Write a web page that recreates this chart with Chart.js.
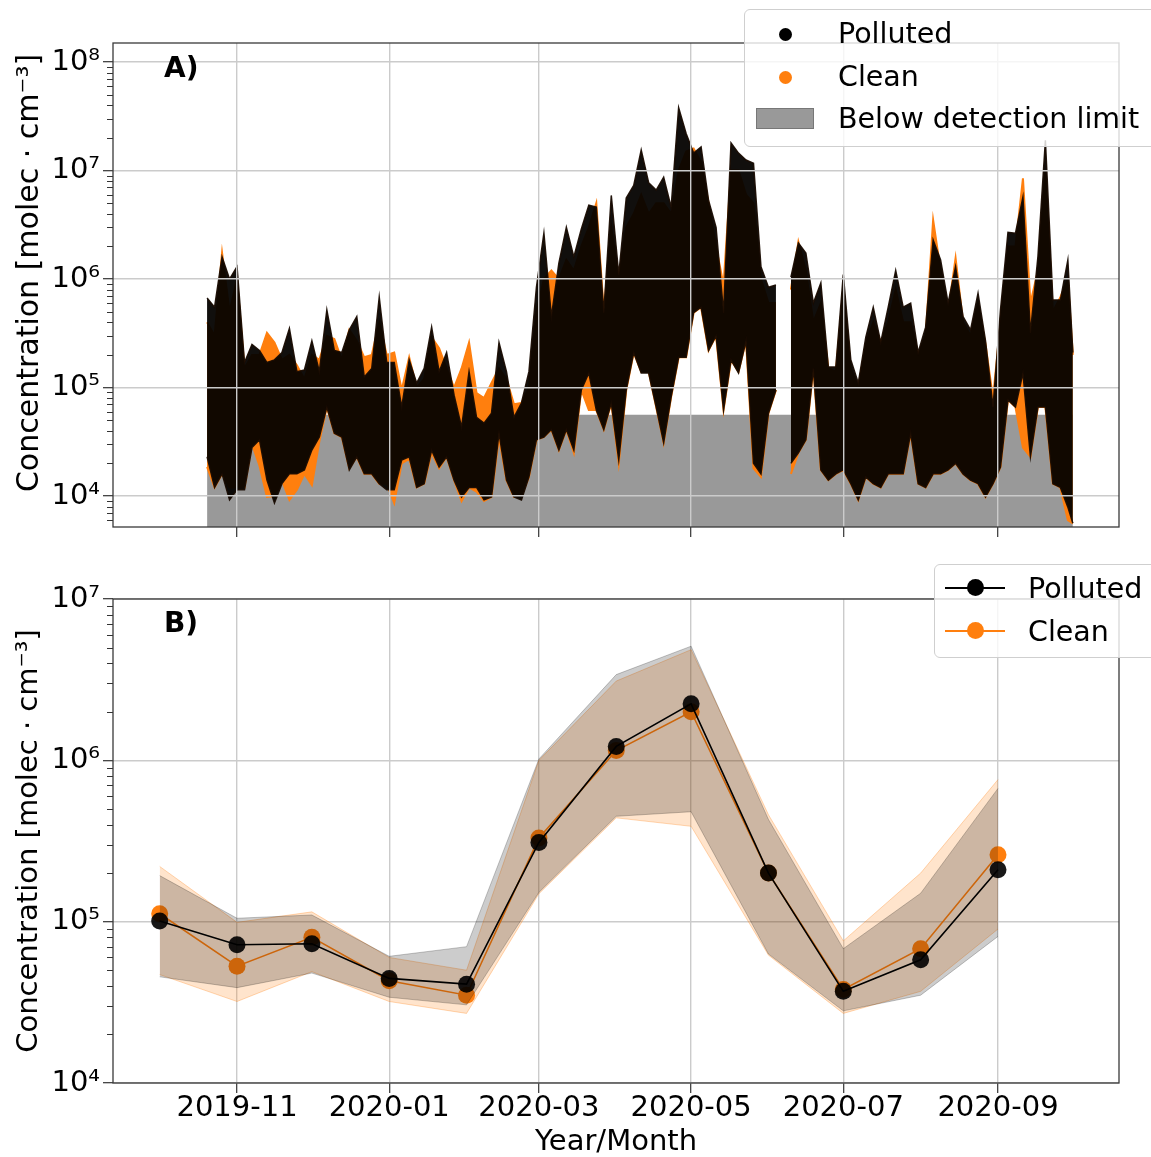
<!DOCTYPE html>
<html>
<head>
<meta charset="utf-8">
<title>Concentration, polluted vs clean</title>
<script src="https://cdn.jsdelivr.net/npm/chart.js@4.4.1/dist/chart.umd.min.js"></script>
<style>
  body { margin: 0; background: #fff; }
  #page { position: relative; width: 1151px; height: 1157px; overflow: hidden;
          font-family: "DejaVu Sans", sans-serif; color: #000; }
  canvas { position: absolute; left: 0; }
  #chartA { top: 0; }
  #chartB { top: 560px; }
  .tag { position: absolute; left: 164px; font-weight: bold; font-size: 28px; line-height: 34px; }
  .legend { position: absolute; background: rgba(255,255,255,0.8); border: 1.3px solid #cfcfcf;
            border-radius: 6px; box-sizing: border-box; }
  .legend .txt { position: absolute; left: 93px; height: 34px; line-height: 34px;
                 font-size: 28.5px; white-space: nowrap; }
  .dot { position: absolute; width: 13px; height: 13px; border-radius: 50%; }
  .patch { position: absolute; background: #999; border: 1px solid #777; box-sizing: border-box; }
  .ln { position: absolute; height: 2px; }
  .mk { position: absolute; width: 17px; height: 17px; border-radius: 50%; }
</style>
</head>
<body>
<div id="page">
  <canvas id="chartA" width="1151" height="560"></canvas>
  <canvas id="chartB" width="1151" height="597"></canvas>

  <div class="tag" style="top:51px">A)</div>
  <div class="tag" style="top:606px">B)</div>

  <div class="legend" style="left:744px; top:9px; width:440px; height:138px;">
    <div class="dot" style="left:34px; top:18px; background:#000"></div>
    <div class="txt" style="top:7px">Polluted</div>
    <div class="dot" style="left:34px; top:61px; background:#ff7f0e"></div>
    <div class="txt" style="top:50px">Clean</div>
    <div class="patch" style="left:11px; top:98px; width:58px; height:21px"></div>
    <div class="txt" style="top:92px">Below detection limit</div>
  </div>

  <div class="legend" style="left:934px; top:564px; width:240px; height:94px;">
    <div class="ln" style="left:10px; top:22px; width:60px; background:#000"></div>
    <div class="mk" style="left:32px; top:14px; background:#000"></div>
    <div class="txt" style="top:7px">Polluted</div>
    <div class="ln" style="left:10px; top:65px; width:60px; background:#ff7f0e"></div>
    <div class="mk" style="left:32px; top:57px; background:#ff7f0e"></div>
    <div class="txt" style="top:50px">Clean</div>
  </div>
</div>

<script>
// ---------- panel A: envelope of the raw measurements, read every ~3 days ----------
const aDates = [
  '2019-10-20','2019-10-23','2019-10-26','2019-10-29','2019-11-01','2019-11-04','2019-11-07','2019-11-10','2019-11-13','2019-11-16',
  '2019-11-19','2019-11-22','2019-11-25','2019-11-28','2019-12-01','2019-12-04','2019-12-07','2019-12-10','2019-12-13','2019-12-16',
  '2019-12-19','2019-12-22','2019-12-25','2019-12-28','2019-12-31','2020-01-03','2020-01-06','2020-01-09','2020-01-12','2020-01-15',
  '2020-01-18','2020-01-21','2020-01-24','2020-01-27','2020-01-30','2020-02-02','2020-02-05','2020-02-08','2020-02-11','2020-02-14',
  '2020-02-17','2020-02-20','2020-02-23','2020-02-26','2020-02-29','2020-03-03','2020-03-06','2020-03-09','2020-03-12','2020-03-15',
  '2020-03-18','2020-03-21','2020-03-24','2020-03-27','2020-03-30','2020-04-02','2020-04-05','2020-04-08','2020-04-11','2020-04-14',
  '2020-04-17','2020-04-20','2020-04-23','2020-04-26','2020-04-29','2020-05-02','2020-05-05','2020-05-08','2020-05-11','2020-05-14',
  '2020-05-17','2020-05-20','2020-05-23','2020-05-26','2020-05-29','2020-06-01','2020-06-04','2020-06-07','2020-06-10','2020-06-13',
  '2020-06-16','2020-06-19','2020-06-22','2020-06-25','2020-06-28','2020-07-01','2020-07-04','2020-07-07','2020-07-10','2020-07-13',
  '2020-07-16','2020-07-19','2020-07-22','2020-07-25','2020-07-28','2020-07-31','2020-08-03','2020-08-06','2020-08-09','2020-08-12',
  '2020-08-15','2020-08-18','2020-08-21','2020-08-24','2020-08-27','2020-08-30','2020-09-02','2020-09-05','2020-09-08','2020-09-11',
  '2020-09-14','2020-09-17','2020-09-20','2020-09-23','2020-09-26','2020-09-29','2020-10-01'
];
const aPollutedHigh = [
  6.7e5, 5.5e5, 1.6e6, 1.0e6, 1.3e6, 1.7e5, 2.5e5, 2.2e5, 1.7e5, 1.8e5,
  2.1e5, 3.5e5, 1.4e5, 1.45e5, 2.7e5, 1.4e5, 5.2e5, 2.2e5, 2.1e5, 3.4e5,
  4.5e5, 1.25e5, 1.5e5, 6.8e5, 1.7e5, 1.7e5, 6.6e4, 1.8e5, 1.1e5, 1.5e5,
  3.6e5, 1.4e5, 2.1e5, 8.5e4, 4.3e4, 1.4e5, 5.3e4, 4.7e4, 5.8e4, 2.6e5,
  1.4e5, 5.3e4, 7.2e4, 1.4e5, 8.4e5, 2.65e6, 4.5e5, 1.4e6, 3.0e6, 1.6e6,
  2.9e6, 4.8e6, 4.6e6, 4.9e5, 5.9e6, 1.1e6, 5.6e6, 7.3e6, 1.55e7, 7.7e6,
  6.6e6, 8.7e6, 4.6e6, 3.8e7, 2.2e7, 1.45e7, 1.65e7, 5.3e6, 3.0e6, 4.9e5,
  1.8e7, 1.45e7, 1.25e7, 1.17e7, 1.3e6, 8.4e5, 8.8e5, null, 1.04e6, 2.15e6,
  1.74e6, 6.0e5, 9.2e5, 1.55e5, 1.55e5, 1.1e6, 1.8e5, 1.1e5, 2.9e5, 5.5e5,
  2.6e5, 5.5e5, 1.2e6, 5.5e5, 6.0e5, 2.1e5, 3.6e5, 2.3e6, 1.5e6, 6.0e5,
  1.3e6, 4.5e5, 3.4e5, 7.4e5, 2.7e5, 6.6e4, 5.2e5, 2.7e6, 2.65e6, 5.7e6,
  3.2e5, 1.6e6, 1.9e7, 6.4e5, 6.4e5, 1.5e6, 2.1e5
];
const aPollutedLow = [
  2.3e4, 1.2e4, 1.6e4, 9.2e3, 1.14e4, 1.14e4, 2.8e4, 3.3e4, 1.4e4, 8.6e3,
  1.3e4, 1.6e4, 1.6e4, 1.74e4, 2.65e4, 3.5e4, 6.6e4, 3.8e4, 3.5e4, 1.74e4,
  2.3e4, 1.6e4, 1.6e4, 1.3e4, 1.14e4, 1.14e4, 2.15e4, 2.3e4, 1.2e4, 1.3e4,
  2.65e4, 1.85e4, 2.3e4, 1.4e4, 9.8e3, 1.2e4, 1.2e4, 9.2e3, 9.8e3, 3.8e4,
  1.4e4, 9.8e3, 9.2e3, 1.5e4, 3.3e4, 3.5e4, 4.1e4, 2.65e4, 4.1e4, 2.65e4,
  9.5e4, 1.36e5, 6.2e4, 4.1e4, 7.2e4, 2.15e4, 9.5e4, 2.1e5, 1.36e5, 1.36e5,
  6.6e4, 3.1e4, 8.2e4, 1.9e5, 1.9e5, 4.9e5, 5.5e5, 2.2e5, 3.0e5, 6.2e4,
  1.8e5, 1.36e5, 2.7e5, 2.0e4, 1.6e4, 5.8e4, 9.5e4, null, 2.0e4, 2.5e4,
  3.3e4, 1.5e5, 1.74e4, 1.4e4, 1.6e4, 1.74e4, 1.3e4, 9.2e3, 1.5e4, 1.3e4,
  1.2e4, 1.6e4, 1.6e4, 1.6e4, 3.8e4, 1.3e4, 1.2e4, 1.6e4, 1.6e4, 1.74e4,
  2.0e4, 1.6e4, 1.4e4, 1.3e4, 9.8e3, 1.3e4, 1.85e4, 7.7e4, 6.6e4, 1.36e5,
  2.3e4, 6.6e4, 6.6e4, 1.3e4, 1.2e4, 7.9e3, 5.6e3
];
const aCleanHigh = [
  4.0e5, 3.0e5, 1.75e6, 5.0e5, 1.0e6, 1.5e5, 2.0e5, 2.0e5, 3.2e5, 2.6e5,
  1.8e5, 2.0e5, 1.6e5, 1.2e5, 2.0e5, 1.8e5, 3.0e5, 2.8e5, 1.8e5, 3.4e5,
  2.7e5, 1.9e5, 2.0e5, 4.0e5, 2.0e5, 2.1e5, 9.5e4, 1.9e5, 1.0e5, 1.2e5,
  2.9e5, 2.3e5, 1.5e5, 1.0e5, 1.5e5, 2.6e5, 8.9e4, 8.0e4, 1.1e5, 1.5e5,
  1.2e5, 7.0e4, 7.2e4, 1.0e5, 5.0e5, 1.0e6, 1.2e6, 1.0e6, 1.5e6, 1.2e6,
  2.0e6, 3.0e6, 5.0e6, 5.0e5, 3.0e6, 1.0e6, 3.0e6, 4.0e6, 6.0e6, 4.0e6,
  5.0e6, 5.0e6, 4.0e6, 1.0e7, 1.5e7, 1.6e7, 1.2e7, 5.0e6, 2.0e6, 8.8e5,
  1.0e7, 1.0e7, 6.0e6, 5.0e6, 1.0e6, 6.0e5, 6.0e5, null, 8.0e5, 2.2e6,
  1.2e6, 4.0e5, 6.0e5, 1.5e5, 1.4e5, 8.0e5, 1.5e5, 1.0e5, 2.5e5, 4.0e5,
  2.6e5, 4.0e5, 8.0e5, 4.0e5, 4.0e5, 2.0e5, 3.0e5, 3.5e6, 1.2e6, 5.0e5,
  1.56e6, 4.0e5, 3.0e5, 6.0e5, 2.5e5, 8.0e4, 4.0e5, 2.0e6, 2.0e6, 8.5e6,
  6.0e5, 1.2e6, 1.0e7, 5.0e5, 6.8e5, 1.0e6, 2.0e5
];
const aCleanLow = [
  1.85e4, 1.2e4, 1.6e4, 1.2e4, 1.2e4, 1.2e4, 3.0e4, 1.9e4, 9.8e3, 1.0e4,
  1.4e4, 9.2e3, 1.14e4, 1.6e4, 1.26e4, 3.2e4, 6.6e4, 3.8e4, 3.5e4, 1.8e4,
  2.3e4, 1.6e4, 1.6e4, 1.3e4, 1.3e4, 8.6e3, 2.0e4, 2.2e4, 1.2e4, 1.3e4,
  2.5e4, 1.8e4, 2.3e4, 1.4e4, 9.0e3, 1.2e4, 1.1e4, 9.0e3, 9.8e3, 3.5e4,
  1.4e4, 9.8e3, 1.0e4, 1.5e4, 3.3e4, 3.5e4, 4.1e4, 2.65e4, 4.1e4, 2.5e4,
  9.5e4, 6.2e4, 6.2e4, 4.1e4, 7.2e4, 2.0e4, 9.5e4, 2.1e5, 1.4e5, 1.4e5,
  6.6e4, 3.1e4, 8.2e4, 1.9e5, 1.9e5, 4.9e5, 5.5e5, 2.2e5, 3.0e5, 6.2e4,
  1.8e5, 1.4e5, 2.7e5, 1.8e4, 1.5e4, 5.8e4, 9.5e4, null, 1.6e4, 2.5e4,
  3.3e4, 1.5e5, 1.74e4, 1.4e4, 1.6e4, 1.74e4, 1.3e4, 9.2e3, 1.5e4, 1.3e4,
  1.2e4, 1.6e4, 1.6e4, 1.6e4, 3.8e4, 1.3e4, 1.2e4, 1.6e4, 1.6e4, 1.74e4,
  2.0e4, 1.6e4, 1.4e4, 1.3e4, 9.8e3, 1.3e4, 1.85e4, 7.7e4, 6.6e4, 2.8e4,
  2.3e4, 6.6e4, 6.6e4, 1.3e4, 1.2e4, 6.0e3, 5.6e3
];
const detectionLimit = 5.6e4;
const detectionSpan = ['2019-10-20', '2020-10-01'];

// ---------- panel B: monthly medians and spread ----------
const bMonths = ['2019-10','2019-11','2019-12','2020-01','2020-02','2020-03',
                 '2020-04','2020-05','2020-06','2020-07','2020-08','2020-09'];
const bPollutedMedian = [1.01e5, 7.2e4, 7.3e4, 4.45e4, 4.1e4, 3.1e5, 1.22e6, 2.24e6, 2.0e5, 3.7e4, 5.8e4, 2.1e5];
const bPollutedUpper  = [1.93e5, 1.05e5, 1.1e5, 6.1e4, 7.0e4, 1.02e6, 3.4e6, 5.1e6, 4.3e5, 6.8e4, 1.5e5, 6.7e5];
const bPollutedLower  = [4.55e4, 3.9e4, 4.8e4, 3.4e4, 3.05e4, 1.52e5, 4.5e5, 4.8e5, 6.3e4, 2.8e4, 3.5e4, 8.1e4];
const bCleanMedian    = [1.12e5, 5.3e4, 8.0e4, 4.3e4, 3.5e4, 3.3e5, 1.15e6, 2.0e6, 2.0e5, 3.8e4, 6.8e4, 2.6e5];
const bCleanUpper     = [2.2e5, 9.9e4, 1.15e5, 6.0e4, 5.0e4, 1.0e6, 3.1e6, 4.85e6, 4.6e5, 7.6e4, 2.0e5, 7.6e5];
const bCleanLower     = [4.7e4, 3.2e4, 4.9e4, 3.2e4, 2.7e4, 1.49e5, 4.4e5, 3.9e5, 6.2e4, 2.7e4, 3.7e4, 9.0e4];

// ---------- axes ----------
const xTickLabels = ['2019-11', '2020-01', '2020-03', '2020-05', '2020-07', '2020-09'];
const yTicksA = [1e4, 1e5, 1e6, 1e7, 1e8];
const yTicksB = [1e4, 1e5, 1e6, 1e7];
const yTitle = 'Concentration [molec · cm⁻³]';
const xMin = Date.parse('2019-09-12T07:00:00Z');
const xMax = Date.parse('2020-10-19T12:00:00Z');

const FONT = '"DejaVu Sans", sans-serif';
const GRID = '#cbcbcb';
const supMap = {'-': '⁻', '0': '⁰', '1': '¹', '2': '²', '3': '³', '4': '⁴', '5': '⁵', '6': '⁶', '7': '⁷', '8': '⁸', '9': '⁹'};

const day = s => Date.parse(s.length === 7 ? s + '-01' : s);
const pts = (dates, vals) => dates.map((d, i) => ({ x: day(d), y: vals[i] }));
const sup = n => String(n).split('').map(c => supMap[c]).join('');

// gridZ > 0 puts the grid over the data (matplotlib draws it above scatter/fill collections)
function logAxis(ticks, min, max, gridZ, withTitle) {
  return {
    type: 'logarithmic', min: min, max: max,
    afterFit: s => { s.width = 113; },
    afterBuildTicks: s => { s.ticks = ticks.map(v => ({ value: v })); },
    ticks: {
      autoSkip: false, padding: 3, color: '#000',
      font: { family: FONT, size: 29 },
      callback: v => '10' + sup(Math.round(Math.log10(v)))
    },
    grid: { z: gridZ, color: GRID, lineWidth: 1.4, tickColor: '#333', tickLength: 10, tickWidth: 1.2 },
    border: { display: false },
    title: {
      display: withTitle, text: yTitle, color: '#000',
      font: { family: FONT, size: 29, lineHeight: 1 }, padding: { top: 15, bottom: 0 }
    }
  };
}

function timeAxis(height, withLabels, gridZ) {
  return {
    type: 'linear', min: xMin, max: xMax,
    afterFit: s => { s.height = height; },
    afterBuildTicks: s => { s.ticks = xTickLabels.map(l => ({ value: day(l) })); },
    ticks: {
      display: withLabels, autoSkip: false, maxRotation: 0, padding: 0, color: '#000',
      font: { family: FONT, size: 29, lineHeight: 1.1 },
      callback: (v, i) => xTickLabels[i]
    },
    grid: { z: gridZ, color: GRID, lineWidth: 1.4, tickColor: '#333', tickLength: 10, tickWidth: 1.2 },
    border: { display: false },
    title: {
      display: withLabels, text: 'Year/Month', color: '#000',
      font: { family: FONT, size: 29, lineHeight: 1 }, padding: { top: 0, bottom: 0 }
    }
  };
}

// frame round the plot and the small log ticks between decades
const frame = {
  id: 'frame',
  afterDraw(chart) {
    const { ctx, chartArea: a } = chart;
    const y = chart.scales.y;
    ctx.save();
    ctx.strokeStyle = '#333';
    ctx.lineWidth = 1.1;
    ctx.beginPath();
    const e0 = Math.floor(Math.log10(y.min)), e1 = Math.ceil(Math.log10(y.max));
    for (let e = e0; e < e1; e++) {
      for (let k = 2; k < 10; k++) {
        const v = k * Math.pow(10, e);
        if (v < y.min || v > y.max) continue;
        const py = Math.round(y.getPixelForValue(v)) + 0.5;
        ctx.moveTo(a.left - 6, py);
        ctx.lineTo(a.left, py);
      }
    }
    ctx.stroke();
    ctx.lineWidth = 1.3;
    ctx.strokeStyle = '#3a3a3a';
    ctx.strokeRect(a.left, a.top, a.right - a.left, a.bottom - a.top);
    ctx.restore();
  }
};

// the upper panel's y label sits a little higher than the axis centre
const sideTitle = {
  id: 'sideTitle',
  afterDraw(chart, args, opts) {
    if (!opts.text) return;
    const ctx = chart.ctx;
    ctx.save();
    ctx.translate(opts.x, opts.y);
    ctx.rotate(-Math.PI / 2);
    ctx.font = opts.size + 'px ' + FONT;
    ctx.fillStyle = '#000';
    ctx.textAlign = 'center';
    ctx.textBaseline = 'middle';
    ctx.fillText(opts.text, 0, 0);
    ctx.restore();
  }
};

const common = {
  responsive: false,
  animation: false,
  events: [],
  elements: { line: { tension: 0 }, point: { radius: 0 } }
};

// ---------- chart A ----------
new Chart(document.getElementById('chartA'), {
  type: 'line',
  data: {
    datasets: [
      { data: pts(aDates, aPollutedHigh), order: 0, borderColor: 'rgba(25,12,2,0.95)', borderWidth: 1.5, fill: false },
      { data: pts(aDates, aPollutedLow), order: 0, borderColor: 'rgba(25,12,2,0.95)', borderWidth: 1.5,
        fill: { target: 0 }, backgroundColor: 'rgba(4,2,0,0.95)' },
      { data: pts(aDates, aCleanHigh), order: 1, borderColor: '#ff7f0e', borderWidth: 2, fill: false },
      { data: pts(aDates, aCleanLow), order: 1, borderColor: '#ff7f0e', borderWidth: 2,
        fill: { target: 2 }, backgroundColor: '#ff7f0e' },
      { data: detectionSpan.map(d => ({ x: day(d), y: detectionLimit })), order: 2,
        borderWidth: 0, fill: 'start', backgroundColor: '#999999' }
    ]
  },
  options: Object.assign({}, common, {
    layout: { padding: { left: 0, right: 32, top: 43, bottom: 0 } },
    plugins: {
      legend: { display: false }, tooltip: { enabled: false },
      sideTitle: { text: yTitle, x: 30, y: 273, size: 30 }
    },
    scales: {
      x: timeAxis(33, false, 1),
      y: logAxis(yTicksA, 5.18e3, 1.5e8, 1, false)
    }
  }),
  plugins: [frame, sideTitle]
});

// ---------- chart B ----------
new Chart(document.getElementById('chartB'), {
  type: 'line',
  data: {
    datasets: [
      { data: pts(bMonths, bPollutedUpper), order: 0, borderColor: 'rgba(0,0,0,0.22)', borderWidth: 1, fill: false },
      { data: pts(bMonths, bPollutedLower), order: 0, borderColor: 'rgba(0,0,0,0.22)', borderWidth: 1,
        fill: { target: 0 }, backgroundColor: 'rgba(0,0,0,0.2)' },
      { data: pts(bMonths, bPollutedMedian), order: 1, borderColor: '#000', borderWidth: 1.6,
        pointRadius: 8.5, pointBackgroundColor: 'rgba(0,0,0,0.9)', pointBorderWidth: 0 },
      { data: pts(bMonths, bCleanMedian), order: 2, borderColor: '#ff7f0e', borderWidth: 1.6,
        pointRadius: 8.5, pointBackgroundColor: '#ff7f0e', pointBorderWidth: 0 },
      { data: pts(bMonths, bCleanUpper), order: 3, borderColor: 'rgba(255,127,14,0.3)', borderWidth: 1, fill: false },
      { data: pts(bMonths, bCleanLower), order: 3, borderColor: 'rgba(255,127,14,0.3)', borderWidth: 1,
        fill: { target: 4 }, backgroundColor: 'rgba(255,127,14,0.21)' }
    ]
  },
  options: Object.assign({}, common, {
    layout: { padding: { left: 0, right: 32, top: 39, bottom: 0 } },
    plugins: { legend: { display: false }, tooltip: { enabled: false } },
    scales: {
      x: timeAxis(74, true, -1),
      y: logAxis(yTicksB, 1e4, 1e7, -1, true)
    }
  }),
  plugins: [frame]
});
</script>
</body>
</html>
